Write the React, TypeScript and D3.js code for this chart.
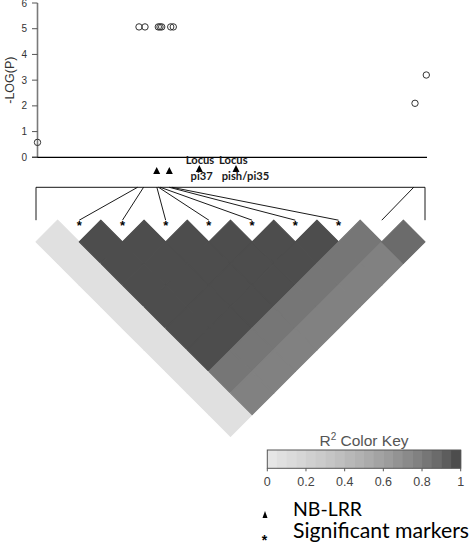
import React from "react";
import * as d3 from "d3";

// marker positions (kb from first marker) and association results
const markerPos = [0, 101.5, 107.5, 120.8, 122.5, 124.2, 133.2, 135.8, 377.5, 388.8];
const markerLogP = [0.58, 5.07, 5.07, 5.07, 5.07, 5.07, 5.07, 5.07, 2.1, 3.2];
const significant = [false, true, true, true, true, true, true, true, false, false];

// NB-LRR genes
const genePos = [119.2, 131.8, 161.8, 198.5];
const geneLabels = [[], [], ["Locus", "pi37"], ["Locus", "pish/pi35"]];

// pairwise LD (r^2), lower triangle: ldR2[j][i] with i < j
const ldR2 = [
  [],
  [0.06],
  [0.06, 1],
  [0.06, 1, 1],
  [0.06, 1, 1, 1],
  [0.06, 1, 1, 1, 1],
  [0.06, 1, 1, 1, 1, 1],
  [0.06, 1, 1, 1, 1, 1, 1],
  [0.06, 0.82, 0.82, 0.82, 0.82, 0.82, 0.82, 0.82],
  [0.06, 0.77, 0.77, 0.77, 0.77, 0.77, 0.77, 0.77, 0.87],
];

const yTicks = [0, 1, 2, 3, 4, 5, 6];
const keyTicks = [0, 0.2, 0.4, 0.6, 0.8, 1];

// grey.colors(20) like R, light -> dark
const nColors = 20;
const greys = d3.range(nColors).map((k) => {
  const a = Math.pow(0.9, 2.2), b = Math.pow(0.3, 2.2);
  const v = Math.pow(a + (b - a) * (k / (nColors - 1)), 1 / 2.2);
  const c = Math.round(v * 255);
  return d3.rgb(c, c, c).formatHex();
});

// label offsets from the gene triangle (line 1, line 2)
const labelDx = [[0, 0], [0, 0], [0.7, 2.4], [-2.7, 9.5]];

const App = () => {
  const W = 473, H = 545;
  const posExtent = d3.extent(markerPos) as [number, number];

  // association plot
  const x = d3.scaleLinear().domain(posExtent).range([37.5, 426.3]);
  const y = d3.scaleLinear().domain([0, 6]).range([157.3, 3]);

  // genetic map + heatmap
  const gx = d3.scaleLinear().domain(posExtent).range([36, 425]);
  const n = markerPos.length;
  const hx = d3.scaleLinear().domain([0, n - 1]).range([36, 425]);
  const half = (hx(1) - hx(0)) / 2;
  const lineY = 187.3;
  const baseY = 220.2;

  const color = d3.scaleQuantize<string>().domain([0, 1]).range(greys);

  const cells: { d: string; fill: string }[] = [];
  for (let j = 1; j < n; j++) {
    for (let i = 0; i < j; i++) {
      const cx = (hx(i) + hx(j)) / 2;
      const cy = baseY + (j - i) * half;
      const d = `M${cx},${cy - half}L${cx + half},${cy}L${cx},${cy + half}L${cx - half},${cy}Z`;
      cells.push({ d, fill: color(ldR2[j][i]) });
    }
  }

  const tri = (cx: number, cy: number, w: number, h: number) =>
    `M${cx - w / 2},${cy + h / 2}L${cx + w / 2},${cy + h / 2}L${cx},${cy - h / 2}Z`;

  // colour key
  const kx = d3.scaleLinear().domain([0, 1]).range([267.3, 460.7]);
  const keyTop = 450, keyH = 18.3;

  const calibri = "Lato, 'Open Sans', sans-serif";
  const arial = "'Liberation Sans', Arial, sans-serif";

  return (
    <div style={{ position: "absolute", left: 0, top: 0 }}>
      <svg width={W} height={H} style={{ display: "block", background: "#fff" }}>
        {/* association plot */}
        <line x1={37.5} x2={37.5} y1={y(6)} y2={y(0)} stroke="#7a7a7a" strokeWidth={1.6} />
        <line x1={32} x2={427} y1={y(0)} y2={y(0)} stroke="#000" strokeWidth={1.2} />
        {yTicks.map((t) => (
          <g key={t}>
            <line x1={32} x2={37.5} y1={y(t)} y2={y(t)} stroke="#555" />
            <text x={27} y={y(t) + 3.5} textAnchor="end" fontSize={10} fontFamily={arial} fill="#333">
              {t}
            </text>
          </g>
        ))}
        <text
          transform={`translate(13.5,${y(3)}) rotate(-90)`}
          textAnchor="middle"
          fontSize={12.5}
          fontFamily={arial}
          fill="#333"
        >
          -LOG(P)
        </text>
        {markerPos.map((p, k) => (
          <circle key={k} cx={x(p)} cy={y(markerLogP[k])} r={3.2} fill="none" stroke="#333" strokeWidth={1} />
        ))}

        {/* genes */}
        {genePos.map((p, k) => (
          <g key={k}>
            <path d={tri(x(p), geneLabels[k].length ? 168.5 : 170.5, 7, 7)} fill="#000" />
            {geneLabels[k].map((s, m) => (
              <text
                key={m}
                x={x(p) + labelDx[k][m]}
                y={163.5 + m * 16.5}
                textAnchor="middle"
                fontSize={11.2}
                fontWeight={700}
                fontFamily={calibri}
                fill="#1a1a1a"
              >
                {s}
              </text>
            ))}
          </g>
        ))}

        {/* genetic map */}
        <line x1={gx(posExtent[0])} x2={gx(posExtent[1])} y1={lineY} y2={lineY} stroke="#444" strokeWidth={1.3} />
        {markerPos.map((p, k) => (
          <line key={k} x1={gx(p)} y1={lineY} x2={hx(k)} y2={baseY} stroke="#000" strokeWidth={0.9} />
        ))}

        {/* LD heatmap */}
        {cells.map((c, k) => (
          <path key={k} d={c.d} fill={c.fill} stroke={c.fill} strokeWidth={1.1} strokeLinejoin="round" />
        ))}
        {markerPos.map((p, k) =>
          significant[k] ? (
            <text key={k} x={hx(k)} y={baseY + 10} textAnchor="middle" fontSize={13} fontWeight={700} fontFamily={arial}>
              *
            </text>
          ) : null
        )}

        {/* colour key */}
        <text x={kx(0.5)} y={446} textAnchor="middle" fontSize={15.5} fontFamily={arial} fill="#555">
          R<tspan dy={-6} fontSize={10}>2</tspan>
          <tspan dy={6}> Color Key</tspan>
        </text>
        {greys.map((g, k) => (
          <rect key={k} x={kx(k / nColors)} y={keyTop} width={kx(1 / nColors) - kx(0) + 0.5} height={keyH} fill={g} />
        ))}
        <rect x={kx(0)} y={keyTop} width={kx(1) - kx(0)} height={keyH} fill="none" stroke="#555" strokeWidth={1} />
        {keyTicks.map((t) => (
          <g key={t}>
            <line x1={kx(t)} x2={kx(t)} y1={keyTop + keyH} y2={keyTop + keyH + 3} stroke="#555" />
            <text x={kx(t)} y={486} textAnchor="middle" fontSize={12.5} fontFamily={arial} fill="#444">
              {t}
            </text>
          </g>
        ))}

        {/* legend */}
        <path d={tri(265, 514.5, 5, 7)} fill="#000" />
        <text x={293} y={516} fontSize={20} fontFamily={calibri} fill="#000" textLength={69} lengthAdjust="spacingAndGlyphs">
          NB-LRR
        </text>
        <text x={264.5} y={545} textAnchor="middle" fontSize={14} fontWeight={700} fontFamily={arial}>
          *
        </text>
        <text x={293} y={538} fontSize={21} fontFamily={calibri} fill="#000" textLength={176} lengthAdjust="spacingAndGlyphs">
          Significant markers
        </text>
      </svg>
    </div>
  );
};

export default App;
